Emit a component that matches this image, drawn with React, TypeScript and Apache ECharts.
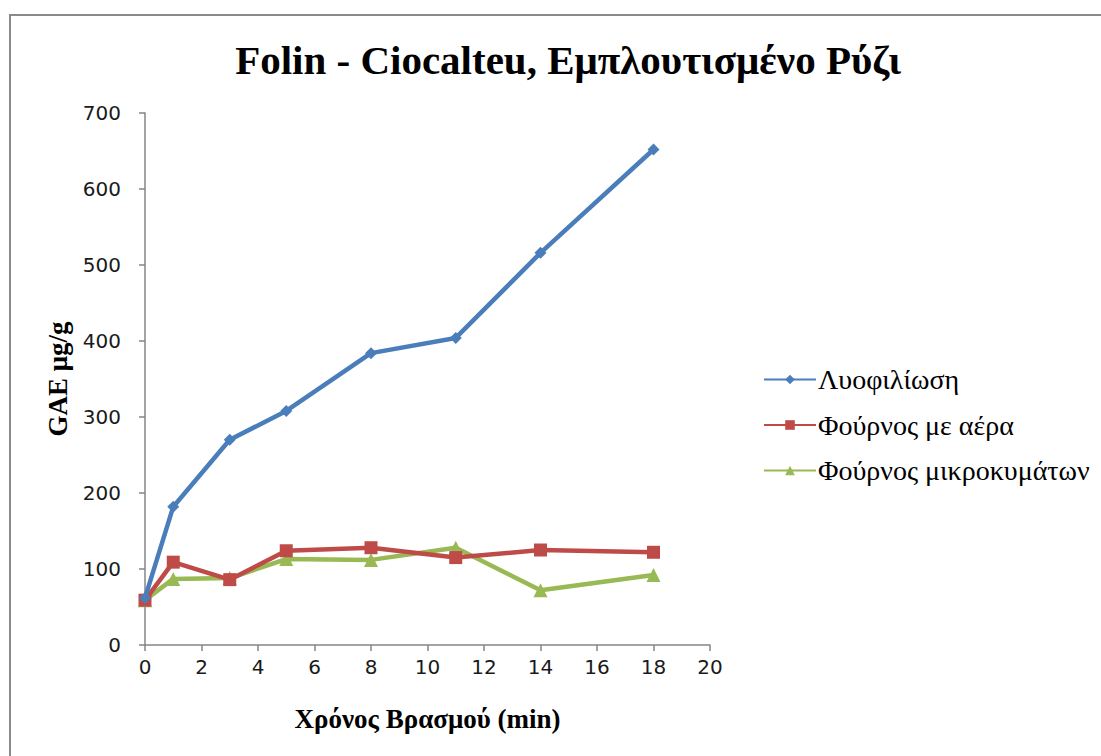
import React, { useEffect, useRef } from "react";
import * as echarts from "echarts";

const boilTimes = [0, 1, 3, 5, 8, 11, 14, 18];
const freezeDried = [62, 182, 270, 308, 384, 404, 516, 652];
const airOven = [59, 109, 86, 124, 128, 115, 125, 122];
const microwave = [59, 87, 88, 113, 112, 128, 72, 92];

const seriesNames = ["Λυοφιλίωση", "Φούρνος με αέρα", "Φούρνος μικροκυμάτων"];
const seriesColors = ["#4a7ebb", "#be4b48", "#98b954"];
const seriesSymbols = ["diamond", "rect", "triangle"];
const seriesSymbolSizes = [12, 13, 14];

const titleText = "Folin - Ciocalteu, Εμπλουτισμένο Ρύζι";
const xAxisTitle = "Χρόνος Βρασμού (min)";
const yAxisTitle = "GAE μg/g";

const serif = "'Liberation Serif', 'DejaVu Serif', serif";
const sans = "'DejaVu Sans', sans-serif";
const axisGray = "#868686";

export default function App() {
  const ref = useRef<HTMLDivElement>(null);

  useEffect(() => {
    if (!ref.current) return;
    const chart = echarts.init(ref.current, null, { renderer: "svg" });
    const values = [freezeDried, airOven, microwave];

    chart.setOption({
      animation: false,
      backgroundColor: "#ffffff",
      title: {
        text: titleText,
        left: 563,
        top: 34,
        textAlign: "center",
        textStyle: {
          fontFamily: serif,
          fontWeight: "bold",
          fontSize: 41,
          color: "#000000",
        },
      },
      graphic: [
        {
          type: "rect",
          shape: { x: 10, y: 15, width: 1100, height: 750 },
          style: { fill: "none", stroke: "#8a8a8a", lineWidth: 2 },
          silent: true,
        },
      ],
      legend: {
        orient: "vertical",
        left: 758,
        top: 360,
        itemWidth: 52,
        itemHeight: 12,
        itemGap: 16.5,
        textStyle: {
          fontFamily: serif,
          fontSize: 28,
          lineHeight: 29,
          color: "#000000",
          padding: [0, 0, 0, -3],
        },
        data: seriesNames,
      },
      grid: { left: 145, right: 391, top: 113, bottom: 111 },
      xAxis: {
        type: "value",
        min: 0,
        max: 20,
        interval: 2,
        name: xAxisTitle,
        nameLocation: "middle",
        nameGap: 60,
        nameTextStyle: { fontFamily: serif, fontWeight: "bold", fontSize: 27, color: "#000000" },
        axisLine: { lineStyle: { color: axisGray, width: 1.5 } },
        axisTick: { show: true, length: 6, lineStyle: { color: axisGray, width: 1.5 } },
        axisLabel: { fontFamily: sans, fontSize: 20, color: "#1a1a1a", margin: 12 },
        splitLine: { show: false },
      },
      yAxis: {
        type: "value",
        min: 0,
        max: 700,
        interval: 100,
        name: yAxisTitle,
        nameLocation: "middle",
        nameGap: 67,
        nameRotate: 90,
        nameTextStyle: { fontFamily: serif, fontWeight: "bold", fontSize: 27, color: "#000000" },
        axisLine: { show: true, lineStyle: { color: axisGray, width: 1.5 } },
        axisTick: { show: true, length: 6, lineStyle: { color: axisGray, width: 1.5 } },
        axisLabel: { fontFamily: sans, fontSize: 20, color: "#1a1a1a", margin: 24 },
        splitLine: { show: false },
      },
      series: seriesNames.map((name, i) => ({
        name,
        type: "line",
        data: boilTimes.map((t, j) => [t, values[i][j]]),
        symbol: seriesSymbols[i],
        symbolSize: seriesSymbolSizes[i],
        showAllSymbol: true,
        itemStyle: { color: seriesColors[i] },
        lineStyle: { color: seriesColors[i], width: 4.5 },
        z: 3 - i,
      })),
    });

    return () => chart.dispose();
  }, []);

  return (
    <div
      ref={ref}
      style={{ position: "fixed", left: 0, top: 0, width: 1101, height: 756, background: "#fff" }}
    />
  );
}
